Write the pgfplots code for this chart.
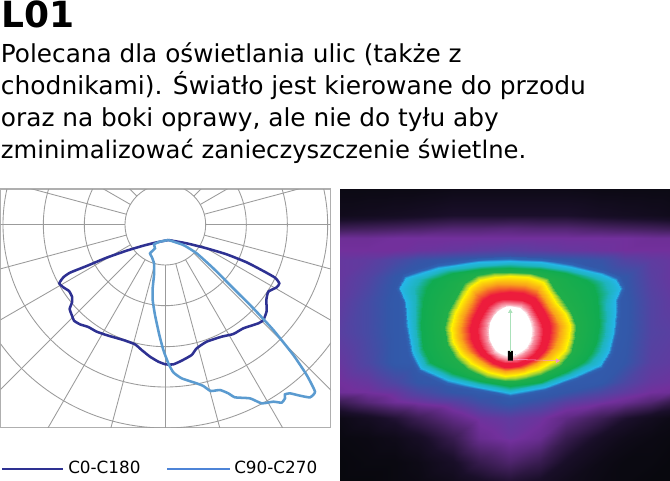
\documentclass[border=0pt]{standalone}
\usepackage{fontspec}
\setmainfont{DejaVu Sans}
\usepackage{pgfplots}
\pgfplotsset{compat=1.18}
\definecolor{cdark}{RGB}{46,49,146}
\definecolor{clight}{RGB}{91,155,208}
\definecolor{gridc}{RGB}{155,155,155}
\definecolor{framec}{RGB}{175,175,175}
\pgfplotsset{colormap={heat}{
  rgb255(0)=(8,8,14) rgb255(10)=(26,15,42) rgb255(20)=(68,33,95) rgb255(30)=(114,48,156)
  rgb255(40)=(51,87,168) rgb255(46)=(47,100,180) rgb255(50)=(37,182,232) rgb255(54)=(30,180,190)
  rgb255(60)=(16,171,80) rgb255(70)=(32,174,74) rgb255(75)=(170,210,50) rgb255(80)=(255,242,0)
  rgb255(85)=(249,161,27) rgb255(90)=(237,28,60) rgb255(92)=(237,28,60) rgb255(96)=(247,149,165) rgb255(100)=(255,255,255)}}
\begin{document}
\begin{tikzpicture}
\path[use as bounding box] (0,0) rectangle (502.5pt,-360.75pt);
\node[anchor=base west,inner sep=0pt,font=\fontsize{27pt}{27pt}\selectfont\bfseries] at (1pt,-21pt) {L01};
\node[anchor=base west,inner sep=0pt,font=\fontsize{18.55pt}{18.55pt}\selectfont] at (0.5pt,-47pt) {Polecana dla oświetlania ulic (także z};
\node[anchor=base west,inner sep=0pt,font=\fontsize{18.7pt}{18.7pt}\selectfont] at (0.5pt,-71pt) {chodnikami). Światło jest kierowane do przodu};
\node[anchor=base west,inner sep=0pt,font=\fontsize{18.6pt}{18.6pt}\selectfont] at (0.5pt,-95pt) {oraz na boki oprawy, ale nie do tyłu aby};
\node[anchor=base west,inner sep=0pt,font=\fontsize{18.2pt}{18.2pt}\selectfont] at (0.5pt,-118.5pt) {zminimalizować zanieczyszczenie świetlne.};

% polar diagram, coordinates in 3x pixels of the crop
\begin{axis}[
  at={(0.5pt,-141.75pt)},anchor=north west,
  scale only axis,width=247.5pt,height=179pt,
  xmin=2,xmax=992,ymin=12,ymax=728,y dir=reverse,
  xtick=\empty,ytick=\empty,
  axis line style={framec,line width=0.8pt},
]
\draw[gridc,line width=0.65pt] (axis cs:496,119) circle [radius=121];
\draw[gridc,line width=0.65pt] (axis cs:496,119) circle [radius=243];
\draw[gridc,line width=0.65pt] (axis cs:496,119) circle [radius=366];
\draw[gridc,line width=0.65pt] (axis cs:496,119) circle [radius=487];
\draw[gridc,line width=0.65pt] (axis cs:496,119) circle [radius=610];
\pgfplotsinvokeforeach{0,15,...,345}{
  \draw[gridc,line width=0.65pt] (axis cs:{496+121*sin(#1)},{119+121*cos(#1)}) -- (axis cs:{496+1300*sin(#1)},{119+1300*cos(#1)});
}
\addplot[cdark,line width=1.9pt,smooth,tension=0.3] coordinates {
(505,165)(470,172)(430,182)(380,197)(320,218)(260,243)(210,263)(190,277)(178,295)(190,307)(207,318)(216,335)(216,352)(209,372)(216,392)(222,407)(240,418)(265,426)(290,440)(325,452)(370,465)(405,478)(425,495)(450,515)(475,530)(497,538)(520,538)(545,527)(575,510)(590,490)(620,470)(665,455)(700,447)(730,430)(775,415)(790,405)(800,378)(799,345)(805,320)(830,307)(838,295)(825,278)(790,258)(740,232)(680,208)(620,190)(560,175)(505,165)
};
\addplot[clight,line width=1.9pt,smooth,tension=0.3] coordinates {
(505,165)(480,170)(462,178)(465,190)(450,205)(455,215)(462,235)(462,270)(458,310)(458,345)(465,390)(478,450)(490,495)(505,535)(520,562)(545,580)(590,595)(610,603)(632,618)(660,615)(685,625)(705,637)(750,640)(785,655)(820,650)(845,653)(855,640)(855,628)(870,625)(900,632)(930,637)(945,620)(920,570)(880,510)(820,435)(760,370)(700,310)(640,250)(590,205)(550,180)(505,165)
};
\end{axis}

% legend strip, x in pixels, y in pixels up from the bottom
\begin{axis}[
  at={(0pt,-343.5pt)},anchor=north west,
  scale only axis,width=502.5pt,height=16.5pt,
  xmin=0,xmax=670,ymin=0,ymax=22,hide axis,clip=false,
]
\addplot[cdark,line width=1.7pt] coordinates {(2,11.3)(63,11.3)};
\addplot[clight!85!blue,line width=1.7pt] coordinates {(167,11.3)(230,11.3)};
\node[anchor=base west,inner sep=0pt,font=\fontsize{12.6pt}{12.6pt}\selectfont] at (axis cs:68,7) {C0-C180};
\node[anchor=base west,inner sep=0pt,font=\fontsize{12.6pt}{12.6pt}\selectfont] at (axis cs:234,7) {C90-C270};
\end{axis}

% light distribution map
\begin{axis}[
  at={(254.75pt,-141.25pt)},anchor=north west,
  scale only axis,width=247.75pt,height=219.5pt,
  hide axis,view={0}{90},
  xmin=5,xmax=996,ymin=10,ymax=888,zmin=0,zmax=10,y dir=reverse,
  colormap name=heat,point meta min=0,point meta max=10,
]
% background glow
\addplot3[surf,shader=interp,mesh/cols=13,forget plot] coordinates {
(5,10,0.2)(90,10,0.2)(170,10,0.2)(240,10,0.2)(345,10,0.3)(425,10,0.3)(515,10,0.3)(605,10,0.3)(685,10,0.3)(790,10,0.2)(860,10,0.2)(940,10,0.2)(996,10,0.2)

(5,90,0.5)(90,90,0.6)(170,90,0.7)(240,90,0.8)(345,90,1)(425,90,1)(515,90,1)(605,90,1)(685,90,1)(790,90,0.8)(860,90,0.7)(940,90,0.6)(996,90,0.5)

(5,130,1.8)(90,130,1.9)(170,130,2)(240,130,2.1)(345,130,2.3)(425,130,2.3)(515,130,2.4)(605,130,2.3)(685,130,2.3)(790,130,2.1)(860,130,2)(940,130,1.9)(996,130,1.8)

(5,160,2.9)(90,160,2.9)(170,160,3)(240,160,3)(345,160,3)(425,160,3)(515,160,3)(605,160,3)(685,160,3)(790,160,3)(860,160,3)(940,160,2.9)(996,160,2.9)

(5,195,3)(90,195,3)(170,195,3)(240,195,3.1)(345,195,3.2)(425,195,3.3)(515,195,3.4)(605,195,3.3)(685,195,3.2)(790,195,3.1)(860,195,3)(940,195,3)(996,195,3)

(5,225,3.2)(90,225,3.3)(170,225,3.6)(240,225,3.9)(345,225,4.1)(425,225,4.2)(515,225,4.2)(605,225,4.2)(685,225,4.1)(790,225,3.9)(860,225,3.5)(940,225,3.3)(996,225,3.2)

(5,275,3.2)(90,275,3.5)(170,275,4)(240,275,4.2)(345,275,4.2)(425,275,4.2)(515,275,4.2)(605,275,4.2)(685,275,4.2)(790,275,4.2)(860,275,4)(940,275,3.4)(996,275,3.2)

(5,350,3.3)(90,350,3.7)(170,350,4.1)(240,350,4.2)(345,350,4.2)(425,350,4.2)(515,350,4.2)(605,350,4.2)(685,350,4.2)(790,350,4.2)(860,350,4.1)(940,350,3.5)(996,350,3.3)

(5,440,3.4)(90,440,3.7)(170,440,4.1)(240,440,4.2)(345,440,4.2)(425,440,4.2)(515,440,4.2)(605,440,4.2)(685,440,4.2)(790,440,4.2)(860,440,4.1)(940,440,3.5)(996,440,3.4)

(5,530,3.2)(90,530,3.6)(170,530,4.1)(240,530,4.2)(345,530,4.2)(425,530,4.2)(515,530,4.2)(605,530,4.2)(685,530,4.2)(790,530,4.2)(860,530,4)(940,530,3.4)(996,530,3.3)

(5,590,3)(90,590,3.2)(170,590,3.6)(240,590,4)(345,590,4.2)(425,590,4.2)(515,590,4.2)(605,590,4.2)(685,590,4.2)(790,590,4.1)(860,590,3.6)(940,590,3.2)(996,590,3.1)

(5,620,2.9)(90,620,3)(170,620,3.2)(240,620,3.6)(345,620,4)(425,620,4.2)(515,620,4.2)(605,620,4.2)(685,620,4)(790,620,3.6)(860,620,3.3)(940,620,3)(996,620,2.9)

(5,650,1.8)(90,650,2.4)(170,650,2.9)(240,650,3.1)(345,650,3.4)(425,650,3.8)(515,650,4.1)(605,650,3.8)(685,650,3.4)(790,650,3.1)(860,650,2.8)(940,650,2.3)(996,650,1.7)

(5,700,0.3)(90,700,0.7)(170,700,1.2)(240,700,1.8)(345,700,2.6)(425,700,3.1)(515,700,3.3)(605,700,3.1)(685,700,2.6)(790,700,1.8)(860,700,1.1)(940,700,0.6)(996,700,0.3)

(5,760,0.1)(90,760,0.2)(170,760,0.4)(240,760,0.8)(345,760,1.7)(425,760,2.8)(515,760,3.1)(605,760,2.8)(685,760,1.7)(790,760,0.8)(860,760,0.4)(940,760,0.2)(996,760,0.1)

(5,830,0)(90,830,0.1)(170,830,0.1)(240,830,0.3)(345,830,0.9)(425,830,1.7)(515,830,2.2)(605,830,1.7)(685,830,0.9)(790,830,0.3)(860,830,0.1)(940,830,0.1)(996,830,0)

(5,888,0)(90,888,0)(170,888,0.1)(240,888,0.2)(345,888,0.5)(425,888,0.9)(515,888,1.2)(605,888,0.9)(685,888,0.5)(790,888,0.2)(860,888,0.1)(940,888,0)(996,888,0)
};
% level contours of the bright patch, one mesh row per level
\addplot3[surf,shader=interp,mesh/cols=25,forget plot] coordinates {
(517,214,4.2)(612,218,4.2)(704,231,4.2)(795,255,4.2)(842,273,4.2)(860,310,4.2)(846,345,4.2)(846,382,4.2)(839,442,4.2)(824,505,4.2)(795,553,4.2)(716,585,4.2)(624,619,4.2)(517,638,4.2)(416,619,4.2)(325,599,4.2)(240,562,4.2)(211,510,4.2)(196,420,4.2)(191,350,4.2)(173,310,4.2)(195,268,4.2)(296,234,4.2)(418,218,4.2)(517,214,4.2)

(517,228,5)(610,232,5)(700,245,5)(790,268,5)(832,285,5)(846,310,5)(832,345,5)(832,380,5)(825,440,5)(810,500,5)(785,540,5)(710,572,5)(620,605,5)(517,624,5)(420,605,5)(330,585,5)(250,550,5)(225,505,5)(210,420,5)(205,350,5)(187,310,5)(205,280,5)(300,248,5)(420,232,5)(517,228,5)

(517,238,5.4)(607,243,5.4)(690,255,5.4)(768,277,5.4)(800,292,5.4)(812,322,5.4)(805,358,5.4)(806,400,5.4)(800,455,5.4)(785,502,5.4)(760,535,5.4)(695,566,5.4)(615,597,5.4)(517,614,5.4)(422,596,5.4)(337,575,5.4)(262,540,5.4)(240,497,5.4)(230,420,5.4)(230,350,5.4)(228,310,5.4)(245,282,5.4)(322,256,5.4)(425,242,5.4)(517,238,5.4)

(517,248,6)(605,253,6)(680,265,6)(745,285,6)(765,300,6)(778,335,6)(780,380,6)(782,420,6)(775,470,6)(760,505,6)(735,530,6)(680,560,6)(610,590,6)(517,603,6)(425,587,6)(345,565,6)(275,530,6)(255,490,6)(250,420,6)(255,350,6)(268,310,6)(285,285,6)(345,265,6)(430,252,6)(517,248,6)

(517,260,7)(578,263,7)(630,278,7)(652,315,7)(675,345,7)(700,380,7)(715,420,7)(712,458,7)(698,505,7)(665,542,7)(608,570,7)(563,583,7)(530,587,7)(500,589,7)(443,580,7)(388,552,7)(350,520,7)(326,477,7)(318,430,7)(330,378,7)(357,330,7)(378,293,7)(418,270,7)(468,262,7)(517,260,7)

(517,272,8)(570,275,8)(615,290,8)(635,325,8)(655,355,8)(680,385,8)(695,420,8)(692,455,8)(680,495,8)(650,525,8)(600,553,8)(560,565,8)(530,570,8)(500,572,8)(450,562,8)(400,535,8)(365,505,8)(345,470,8)(338,430,8)(350,385,8)(375,340,8)(395,305,8)(425,285,8)(470,275,8)(517,272,8)

(517,297,8.5)(562,300,8.5)(598,312,8.5)(618,340,8.5)(635,368,8.5)(655,395,8.5)(665,422,8.5)(662,452,8.5)(652,485,8.5)(628,512,8.5)(590,537,8.5)(555,551,8.5)(528,556,8.5)(500,557,8.5)(456,545,8.5)(415,520,8.5)(385,492,8.5)(370,462,8.5)(365,430,8.5)(375,392,8.5)(395,355,8.5)(412,323,8.5)(440,305,8.5)(478,297,8.5)(517,297,8.5)

(517,322,9)(555,325,9)(590,338,9)(605,360,9)(620,385,9)(632,410,9)(636,430,9)(633,460,9)(620,495,9)(598,518,9)(565,535,9)(540,543,9)(520,545,9)(497,545,9)(465,535,9)(430,510,9)(410,485,9)(400,460,9)(397,430,9)(405,400,9)(420,368,9)(435,345,9)(460,330,9)(490,323,9)(517,322,9)

(517,342,9.2)(552,345,9.2)(578,358,9.2)(592,378,9.2)(604,400,9.2)(612,420,9.2)(615,438,9.2)(612,465,9.2)(602,490,9.2)(585,510,9.2)(560,525,9.2)(538,533,9.2)(520,535,9.2)(498,535,9.2)(470,525,9.2)(443,503,9.2)(428,482,9.2)(420,458,9.2)(417,435,9.2)(423,408,9.2)(437,382,9.2)(450,362,9.2)(470,349,9.2)(493,343,9.2)(517,342,9.2)

(517,356,9.6)(549,360,9.6)(567,376,9.6)(579,395,9.6)(587,414,9.6)(590,431,9.6)(590,447,9.6)(586,469,9.6)(574,492,9.6)(556,508,9.6)(538,517,9.6)(527,520,9.6)(516,521,9.6)(503,521,9.6)(484,515,9.6)(466,503,9.6)(455,485,9.6)(446,465,9.6)(444,438,9.6)(447,412,9.6)(458,390,9.6)(472,373,9.6)(490,361,9.6)(503,357,9.6)(517,356,9.6)

(517,366,9.97)(545,371,9.97)(560,385,9.97)(570,400,9.97)(577,418,9.97)(579,432,9.97)(579,445,9.97)(576,465,9.97)(565,485,9.97)(550,498,9.97)(535,506,9.97)(525,509,9.97)(515,510,9.97)(505,510,9.97)(490,505,9.97)(475,495,9.97)(465,480,9.97)(457,462,9.97)(455,438,9.97)(458,415,9.97)(468,396,9.97)(480,382,9.97)(495,372,9.97)(505,367,9.97)(517,366,9.97)
};
\addplot3[fill=white,draw=none,forget plot] coordinates {(517,364,10)(546,369,10)(562,384,10)(572,399,10)(579,417,10)(581,432,10)(581,445,10)(578,466,10)(567,486,10)(551,500,10)(536,508,10)(525,511,10)(515,512,10)(505,512,10)(489,507,10)(474,497,10)(463,481,10)(455,463,10)(453,438,10)(456,414,10)(466,395,10)(479,380,10)(494,370,10)(505,365,10)(517,364,10)};
\addplot3[fill=black,draw=none,forget plot] coordinates {(510,498,10)(525,498,10)(525,527,10)(510,527,10)(510,498,10)};
\addplot3[color={rgb,255:red,170;green,225;blue,185},line width=0.4pt,mark=triangle*,mark size=1.6pt,mark indices={2},forget plot] coordinates {(517,500,10)(517,380,10)};
\addplot3[color={rgb,255:red,245;green,150;blue,200},line width=0.4pt,mark=triangle*,mark size=1.6pt,mark indices={2},mark options={rotate=-90},forget plot] coordinates {(525,523,10)(658,527,10)};
\end{axis}
\end{tikzpicture}
\end{document}
